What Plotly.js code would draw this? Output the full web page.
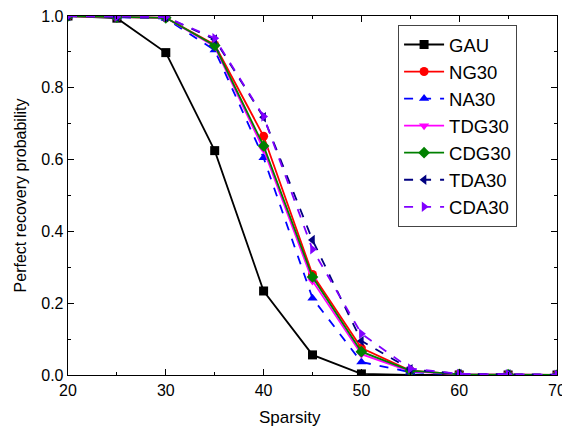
<!DOCTYPE html>
<html><head><meta charset="utf-8">
<script src="https://cdn.plot.ly/plotly-3.0.1.min.js"></script>
<style>body{margin:0;background:#fff}#c{width:562px;height:431px}</style>
</head><body><div id="c"></div>
<script>
const sparsity = [20, 25, 30, 35, 40, 45, 50, 55, 60, 65, 70];
const GAU   = [1.0, 0.994, 0.898, 0.625, 0.234, 0.056, 0.003, 0.0, 0.0, 0.0, 0.0];
const NG30  = [1.0, 0.997, 0.995, 0.92, 0.665, 0.28, 0.075, 0.012, 0.002, 0.001, 0.0];
const NA30  = [1.0, 0.997, 0.993, 0.905, 0.605, 0.214, 0.036, 0.008, 0.001, 0.0, 0.0];
const TDG30 = [1.0, 0.997, 0.995, 0.915, 0.628, 0.262, 0.058, 0.01, 0.002, 0.001, 0.0];
const CDG30 = [1.0, 0.997, 0.995, 0.918, 0.638, 0.273, 0.065, 0.012, 0.002, 0.001, 0.0];
const TDA30 = [1.0, 0.998, 0.997, 0.935, 0.718, 0.376, 0.095, 0.016, 0.003, 0.002, 0.001];
const CDA30 = [1.0, 0.998, 0.997, 0.938, 0.72, 0.35, 0.115, 0.018, 0.003, 0.002, 0.001];

const FONT = '"Liberation Sans", Arial, sans-serif';
function tr(name, y, color, dash, symbol) {
  return {x: sparsity, y: y, name: name, type: 'scatter', mode: 'lines+markers',
    line: {color: color, width: 1.8, dash: dash},
    marker: {color: color, symbol: symbol, size: 9}};
}
const data = [
  tr('GAU', GAU, '#000000', 'solid', 'square'),
  tr('NG30', NG30, '#ff0000', 'solid', 'circle'),
  tr('NA30', NA30, '#0000ff', 'dash', 'triangle-up'),
  tr('TDG30', TDG30, '#ff00ff', 'solid', 'triangle-down'),
  tr('CDG30', CDG30, '#008000', 'solid', 'diamond'),
  tr('TDA30', TDA30, '#000080', 'dash', 'triangle-left'),
  tr('CDA30', CDA30, '#8000ff', 'dash', 'triangle-right')
];
const axBase = {showgrid: false, zeroline: false, showline: true, linecolor: '#000', linewidth: 1.3,
  mirror: 'ticks', ticks: 'inside', ticklen: 6, tickcolor: '#000', ticklabeloverflow: 'allow',
  tickfont: {family: FONT, size: 16, color: '#000'}};
const layout = {
  width: 562, height: 431,
  margin: {l: 68, r: 5, t: 16, b: 56},
  paper_bgcolor: '#fff', plot_bgcolor: '#fff',
  font: {family: FONT, color: '#000'},
  xaxis: Object.assign({}, axBase, {range: [20, 70], dtick: 10, tick0: 20,
    minor: {dtick: 5, ticks: 'inside', ticklen: 3, tickcolor: '#000'}}),
  yaxis: Object.assign({}, axBase, {range: [0, 1], dtick: 0.2, tickformat: '.1f',
    minor: {dtick: 0.1, ticks: 'inside', ticklen: 3, tickcolor: '#000'},
    title: {text: 'Perfect recovery probability', font: {family: FONT, size: 16}, standoff: 10}}),
  annotations: [{text: 'Sparsity', xref: 'paper', yref: 'paper', x: 0.454, y: -0.117,
    xanchor: 'center', yanchor: 'middle', showarrow: false, font: {family: FONT, size: 17, color: '#000'}}],
  showlegend: true,
  legend: {x: 0.675, y: 0.975, xanchor: 'left', yanchor: 'top', bgcolor: '#fff',
    bordercolor: '#444', borderwidth: 1, font: {family: FONT, size: 18.5, color: '#000'},
    tracegroupgap: 0, itemwidth: 40}
};
Plotly.newPlot('c', data, layout, {displayModeBar: false, staticPlot: true});
</script></body></html>
